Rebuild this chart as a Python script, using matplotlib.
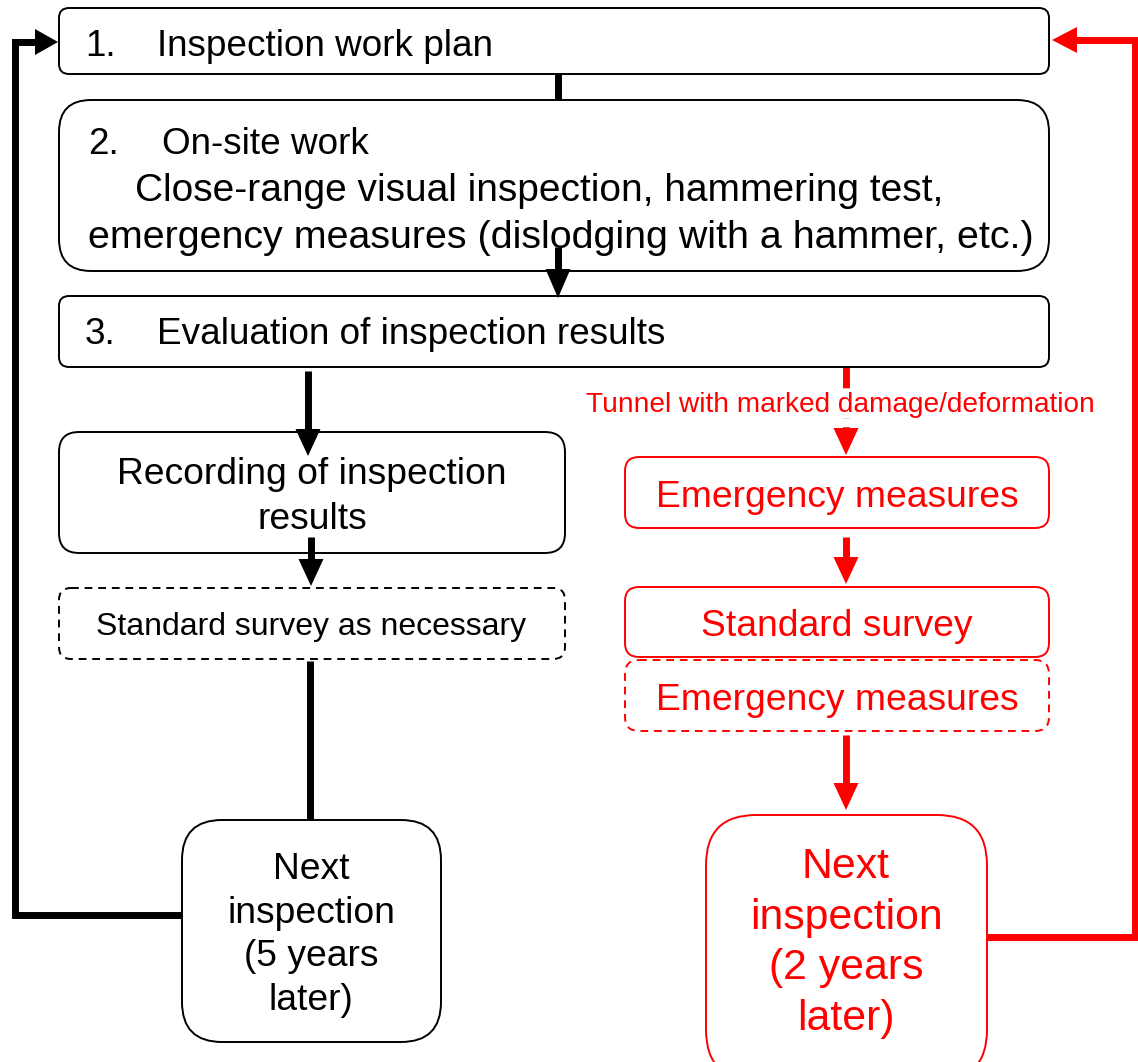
import matplotlib.pyplot as plt
from matplotlib.patches import FancyBboxPatch, Polygon

plt.rcParams['font.family'] = ['Liberation Sans', 'DejaVu Sans']

# texts of the flow chart
step_numbers = ["1.", "2.", "3."]
step_titles = ["Inspection work plan", "On-site work", "Evaluation of inspection results"]
onsite_lines = ["Close-range visual inspection, hammering test,",
                "emergency measures (dislodging with a hammer, etc.)"]
record_text = "Recording of inspection\nresults"
survey_text = "Standard survey as necessary"
next5_text = "Next\ninspection\n(5 years\nlater)"
branch_label = "Tunnel with marked damage/deformation"
red_boxes = ["Emergency measures", "Standard survey", "Emergency measures"]
red_dashed = [False, False, True]
next2_text = "Next\ninspection\n(2 years\nlater)"

RED = '#ff0000'
W, H = 1138, 1062
LW = 5.0  # connector width in points (~7 px)

fig = plt.figure(figsize=(W / 100, H / 100), dpi=100)
ax = fig.add_axes([0, 0, 1, 1])
ax.set_xlim(0, W)
ax.set_ylim(H, 0)
ax.axis('off')


def box(x0, y0, x1, y1, r, color='black', ls='-', lw=1.4):
    p = FancyBboxPatch((x0, y0), x1 - x0, y1 - y0,
                       boxstyle=f"round,pad=0,rounding_size={r}",
                       fc='white', ec=color, lw=lw, ls=ls, zorder=2)
    ax.add_patch(p)


def head(tip, direction, color='black', length=27, width=25):
    x, y = tip
    if direction == 'down':
        pts = [(x, y), (x - width / 2, y - length), (x + width / 2, y - length)]
    elif direction == 'right':
        pts = [(x, y), (x - length, y - width / 2), (x - length, y + width / 2)]
    else:  # left
        pts = [(x, y), (x + length, y - width / 2), (x + length, y + width / 2)]
    ax.add_patch(Polygon(pts, closed=True, fc=color, ec='none', zorder=5))


def arrow(x, y0, y1, color='black', length=27):
    ax.plot([x, x], [y0, y1 - length + 2], color=color, lw=LW,
            solid_capstyle='butt', zorder=4)
    head((x, y1), 'down', color, length=length)


def ttext(x, y, s, size, **kw):
    ax.text(x, y, s, fontsize=size, va='center', zorder=6, **kw)


# top three boxes
step_boxes = [(59, 8, 1049, 74, 10), (59, 100, 1049, 271, 32), (59, 296, 1049, 367, 10)]
for (x0, y0, x1, y1, r) in step_boxes:
    box(x0, y0, x1, y1, r)

ttext(85, 46, step_numbers[0], 26.6)
ttext(157, 46, step_titles[0], 26.6)
ttext(88, 145, step_numbers[1], 26.6)
ttext(162, 145, step_titles[1], 26.6)
ttext(135, 191, onsite_lines[0], 28)
ttext(88, 238, onsite_lines[1], 28.4)
ttext(85, 335, step_numbers[2], 26.6)
ttext(157, 335, step_titles[2], 26.6)

# connectors between top boxes
ax.plot([558, 558], [74, 100], color='black', lw=LW, solid_capstyle='butt', zorder=1)
arrow(558, 247, 298, length=29)

# left (black) branch
box(59, 432, 565, 553, 20)
arrow(308, 371, 456)
ax.text(312, 497, record_text, fontsize=26.8, ha='center', va='center',
        linespacing=1.36, zorder=6)
box(59, 588, 565, 659, 12, ls=(0, (4, 3)))
arrow(311, 537, 586)
ax.text(311, 627, survey_text, fontsize=23, ha='center', va='center', zorder=6)
ax.plot([310, 310], [661, 820], color='black', lw=LW, solid_capstyle='butt', zorder=1)
box(182, 820, 441, 1042, 40)
ax.text(311, 935, next5_text, fontsize=26.8, ha='center', va='center',
        linespacing=1.33, zorder=6)

# black loop back to step 1
ax.plot([182, 15, 15, 36], [915, 915, 42, 42], color='black', lw=LW,
        solid_joinstyle='miter', zorder=1)
head((58, 42), 'right', length=23, width=26)

# right (red) branch
ax.plot([846, 846], [367, 432], color=RED, lw=LW, ls=(0, (3.0, 1.3)),
        dash_capstyle='butt', zorder=1)
ax.text(840, 405, branch_label, fontsize=20.2, color=RED, ha='center',
        va='center', zorder=6,
        bbox=dict(fc='white', ec='none', pad=0))
head((846, 455), 'down', RED)

red_pos = [(625, 457, 1049, 528), (625, 587, 1049, 657), (625, 660, 1049, 731)]
for (x0, y0, x1, y1), label, dashed in zip(red_pos, red_boxes, red_dashed):
    box(x0, y0, x1, y1, 14, color=RED, ls=(0, (4, 3)) if dashed else '-')
    ax.text((x0 + x1) / 2, (y0 + y1) / 2 + 5, label, fontsize=26.8, color=RED,
            ha='center', va='center', zorder=6)

arrow(846, 537, 584, color=RED)
arrow(846, 735, 810, color=RED)
box(706, 815, 987, 1080, 50, color=RED)
ax.text(846, 943, next2_text, fontsize=30.8, color=RED, ha='center', va='center',
        linespacing=1.34, zorder=6)

# red loop back to step 1
ax.plot([987, 1135, 1135, 1074], [937, 937, 40, 40], color=RED, lw=LW,
        solid_joinstyle='miter', zorder=1)
head((1052, 40), 'left', RED, length=25, width=26)

fig.savefig('out.png', dpi=100, facecolor='white')
